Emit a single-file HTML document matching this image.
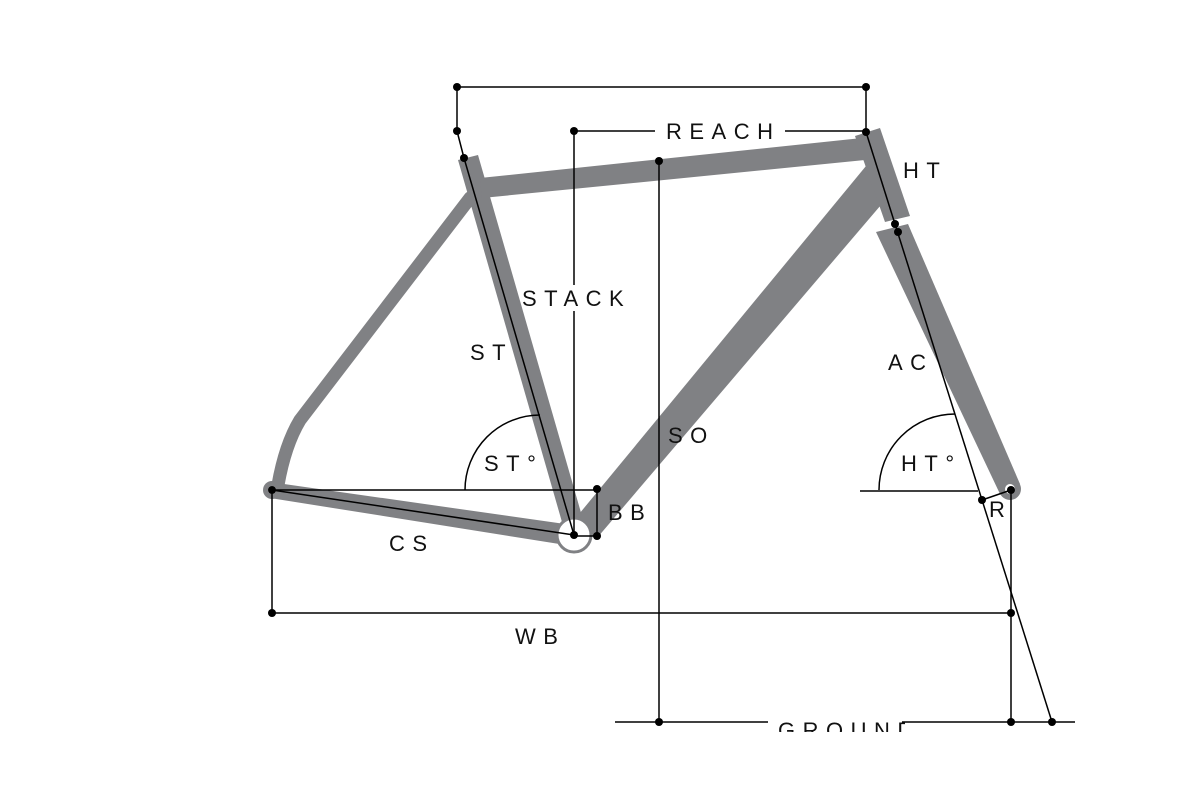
<!DOCTYPE html>
<html><head><meta charset="utf-8"><style>
html,body{margin:0;padding:0;background:#fff;width:1200px;height:800px;overflow:hidden}
text{font-family:"Liberation Sans",sans-serif;font-size:22px;letter-spacing:7.5px;fill:#111}
</style></head><body>
<svg width="1200" height="800" viewBox="0 0 1200 800" xmlns="http://www.w3.org/2000/svg">
<g fill="#808184" stroke="none">
  <path d="M470,198 L300,420 Q285,445 278,485" fill="none" stroke="#808184" stroke-width="13" stroke-linecap="round"/>
  <polygon points="270,482 572,525 572,546 270,498"/>
  <circle cx="272" cy="490" r="9"/>
  <polygon points="458,160 478,155 586,530 566,536"/>
  <polygon points="480,178 862,138 865,160 482,198"/>
  <polygon points="866,166 892,192 597,538 570,525"/>
  <polygon points="855,136 880,128 910,216 885,222"/>
  <polygon points="876,232 908,224 1020,484 1000,494"/>
  <circle cx="1010" cy="489" r="11"/>
</g>
<circle cx="574" cy="535" r="17" fill="#fff" stroke="#808184" stroke-width="3"/>
<circle cx="1010" cy="489" r="5" fill="#fff"/>
<circle cx="272" cy="490" r="4" fill="#fff"/>

<g stroke="#000" stroke-width="1.5" fill="none">
  <polyline points="457,131 457,87 866,87 866,132"/>
  <line x1="457" y1="131" x2="464" y2="158"/>
  <line x1="464" y1="158" x2="574" y2="535"/>
  <line x1="574" y1="131" x2="655" y2="131"/>
  <line x1="785" y1="131" x2="866" y2="131"/>
  <line x1="574" y1="131" x2="574" y2="535"/>
  <line x1="659" y1="161" x2="659" y2="722"/>
  <line x1="866" y1="132" x2="1052" y2="722"/>
  <line x1="982" y1="500" x2="1011" y2="490"/>
  <line x1="860" y1="491" x2="978" y2="491"/>
  <path d="M879,490 A76,76 0 0 1 955,414"/>
  <line x1="272" y1="490" x2="597" y2="490"/>
  <path d="M465,490 A75,75 0 0 1 540,415"/>
  <line x1="597" y1="489" x2="597" y2="536"/>
  <line x1="574" y1="536" x2="597" y2="536"/>
  <line x1="272" y1="490" x2="574" y2="535"/>
  <line x1="272" y1="490" x2="272" y2="613"/>
  <line x1="272" y1="613" x2="1011" y2="613"/>
  <line x1="1011" y1="490" x2="1011" y2="722"/>
  <line x1="615" y1="722" x2="768" y2="722"/>
  <line x1="902" y1="722" x2="1075" y2="722"/>
</g>
<g fill="#000">
  <circle cx="457" cy="87" r="4"/><circle cx="866" cy="87" r="4"/>
  <circle cx="457" cy="131" r="4"/><circle cx="464" cy="158" r="4"/>
  <circle cx="574" cy="131" r="4"/><circle cx="866" cy="132" r="4"/>
  <circle cx="659" cy="161" r="4"/><circle cx="659" cy="722" r="4"/>
  <circle cx="895" cy="224" r="4"/><circle cx="898" cy="232" r="4"/>
  <circle cx="982" cy="500" r="4"/><circle cx="1011" cy="490" r="4"/>
  <circle cx="1052" cy="722" r="4"/><circle cx="1011" cy="722" r="4"/>
  <circle cx="1011" cy="613" r="4"/><circle cx="272" cy="613" r="4"/>
  <circle cx="272" cy="490" r="4"/><circle cx="574" cy="535" r="4"/>
  <circle cx="597" cy="489" r="4"/><circle cx="597" cy="536" r="4"/>
</g>
<text x="666" y="139">REACH</text>
<rect x="560" y="285" width="30" height="26" fill="#fff"/>
<text x="522" y="306">STACK</text>
<text x="903" y="178">HT</text>
<text x="470" y="360">ST</text>
<text x="888" y="370">AC</text>
<text x="668" y="443">SO</text>
<text x="901" y="471">HT°</text>
<text x="484" y="471">ST°</text>
<text x="608" y="520">BB</text>
<text x="989" y="517" style="letter-spacing:0">R</text>
<text x="389" y="551">CS</text>
<text x="515" y="644">WB</text>
<svg x="770" y="710" width="135" height="22" overflow="hidden"><text x="8" y="28">GROUND</text></svg>
</svg>
</body></html>
